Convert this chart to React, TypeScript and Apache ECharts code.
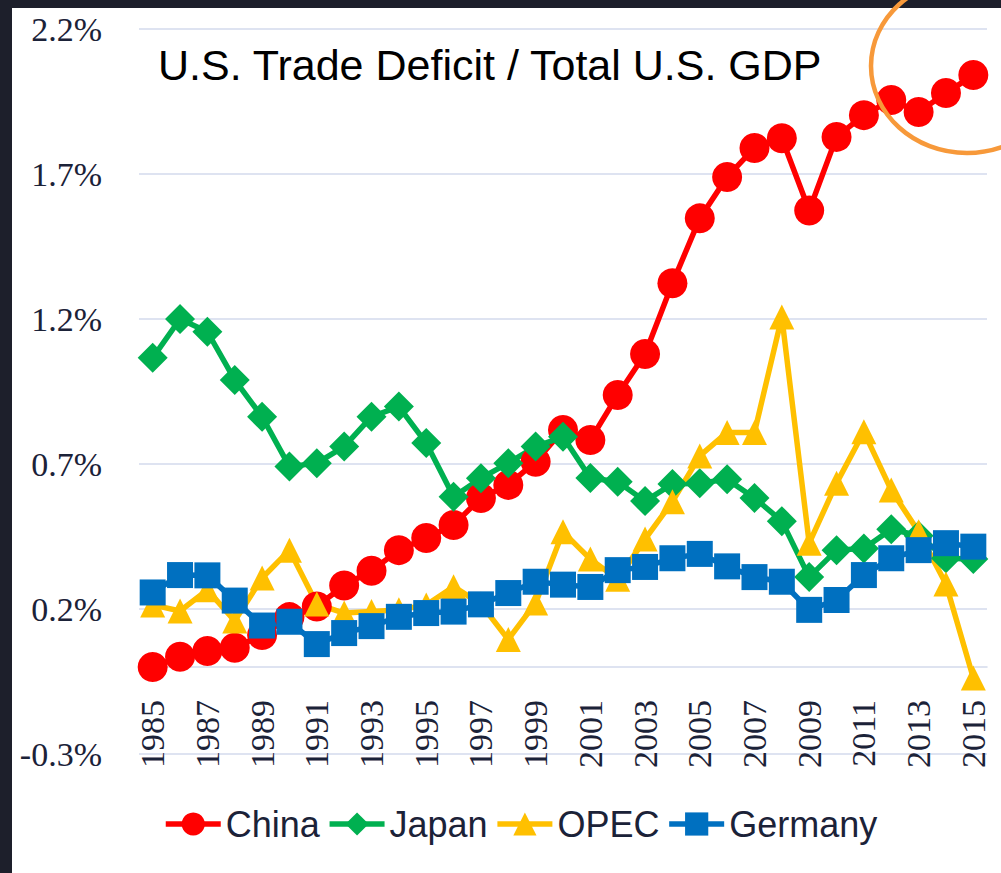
import React, { useEffect, useRef } from "react";
import * as echarts from "echarts";

const years = [
  "1985", "1986", "1987", "1988", "1989", "1990", "1991", "1992", "1993", "1994",
  "1995", "1996", "1997", "1998", "1999", "2000", "2001", "2002", "2003", "2004",
  "2005", "2006", "2007", "2008", "2009", "2010", "2011", "2012", "2013", "2014", "2015",
];

const china = [
  0.0, 0.035, 0.055, 0.066, 0.11, 0.172, 0.209, 0.281, 0.332, 0.403,
  0.445, 0.49, 0.583, 0.628, 0.708, 0.817, 0.783, 0.938, 1.079, 1.323,
  1.547, 1.69, 1.79, 1.823, 1.574, 1.828, 1.903, 1.955, 1.914, 1.979, 2.041,
];

const japan = [
  1.066, 1.2, 1.156, 0.99, 0.863, 0.691, 0.703, 0.76, 0.863, 0.898,
  0.772, 0.587, 0.651, 0.703, 0.76, 0.794, 0.652, 0.639, 0.572, 0.631,
  0.634, 0.647, 0.583, 0.503, 0.31, 0.403, 0.409, 0.475, 0.453, 0.375, 0.372,
];

const opec = [
  0.214, 0.193, 0.266, 0.159, 0.307, 0.403, 0.217, 0.186, 0.191, 0.197,
  0.214, 0.277, 0.217, 0.095, 0.221, 0.466, 0.372, 0.303, 0.441, 0.57,
  0.728, 0.809, 0.809, 1.207, 0.427, 0.634, 0.811, 0.61, 0.466, 0.286, -0.038,
];

const germany = [
  0.257, 0.317, 0.316, 0.229, 0.143, 0.156, 0.079, 0.117, 0.141, 0.173,
  0.186, 0.191, 0.216, 0.255, 0.294, 0.284, 0.276, 0.334, 0.345, 0.375,
  0.39, 0.347, 0.31, 0.294, 0.197, 0.231, 0.317, 0.375, 0.403, 0.427, 0.415,
];

const titleText = "U.S. Trade Deficit / Total U.S. GDP";

const textColor = "#1b2238";
const gridColor = "#d3daec";

export default function App() {
  const ref = useRef<HTMLDivElement>(null);

  useEffect(() => {
    if (!ref.current) return;
    const chart = echarts.init(ref.current, null, { renderer: "svg" });
    const mk = (
      name: string,
      data: number[],
      color: string,
      symbol: string,
      size: number
    ) => ({
      name,
      type: "line",
      data,
      symbol,
      symbolSize: size,
      showAllSymbol: true,
      lineStyle: { color, width: 5.5 },
      itemStyle: { color },
    });
    chart.setOption({
      animation: false,
      backgroundColor: "#1d1f2b",
      graphic: [
        {
          type: "rect",
          z: -10,
          shape: { x: 12, y: 8, width: 989, height: 865 },
          style: { fill: "#ffffff" },
          silent: true,
        },
        {
          type: "text",
          z: 50,
          x: 158,
          y: 65,
          style: {
            text: titleText,
            fontSize: 43,
            fontFamily: "Liberation Sans",
            fill: "#000000",
            align: "left",
            verticalAlign: "middle",
          },
        },
        {
          type: "ellipse",
          z: 100,
          shape: { cx: 967, cy: 66, rx: 96, ry: 87 },
          style: { fill: "none", stroke: "#f7993a", lineWidth: 4.5 },
          silent: true,
        },
      ],
      grid: { left: 139, right: 14, top: 29, bottom: 119, containLabel: false },
      legend: {
        data: ["China", "Japan", "OPEC", "Germany"],
        left: 163,
        top: 806,
        itemWidth: 55,
        itemHeight: 29,
        itemGap: 7,
        padding: 0,
        lineStyle: { width: 5.5 },
        textStyle: {
          fontSize: 36,
          fontFamily: "Liberation Sans",
          color: textColor,
        },
      },
      xAxis: {
        type: "category",
        data: years,
        boundaryGap: true,
        axisLine: { show: true, onZero: true, lineStyle: { color: gridColor, width: 1.5 } },
        axisTick: { show: false },
        splitLine: { show: false },
        axisLabel: {
          rotate: 90,
          margin: -54,
          interval: 1,
          fontSize: 34,
          fontFamily: "Liberation Serif",
          color: textColor,
        },
      },
      yAxis: {
        type: "value",
        min: -0.3,
        max: 2.2,
        interval: 0.5,
        axisLine: { show: false },
        axisTick: { show: false },
        splitLine: { show: true, lineStyle: { color: gridColor, width: 1.5 } },
        axisLabel: {
          margin: 37,
          fontSize: 34,
          fontFamily: "Liberation Serif",
          color: textColor,
          formatter: (v: number) => v.toFixed(1) + "%",
        },
      },
      series: [
        mk("China", china, "#ff0000", "circle", 30),
        mk("Japan", japan, "#00b050", "diamond", 30),
        mk("OPEC", opec, "#ffc000", "triangle", 25),
        mk("Germany", germany, "#0070c0", "rect", 26),
      ],
    });
    return () => chart.dispose();
  }, []);

  return (
    <div
      ref={ref}
      style={{ position: "fixed", left: 0, top: 0, width: 1001, height: 873 }}
    />
  );
}
